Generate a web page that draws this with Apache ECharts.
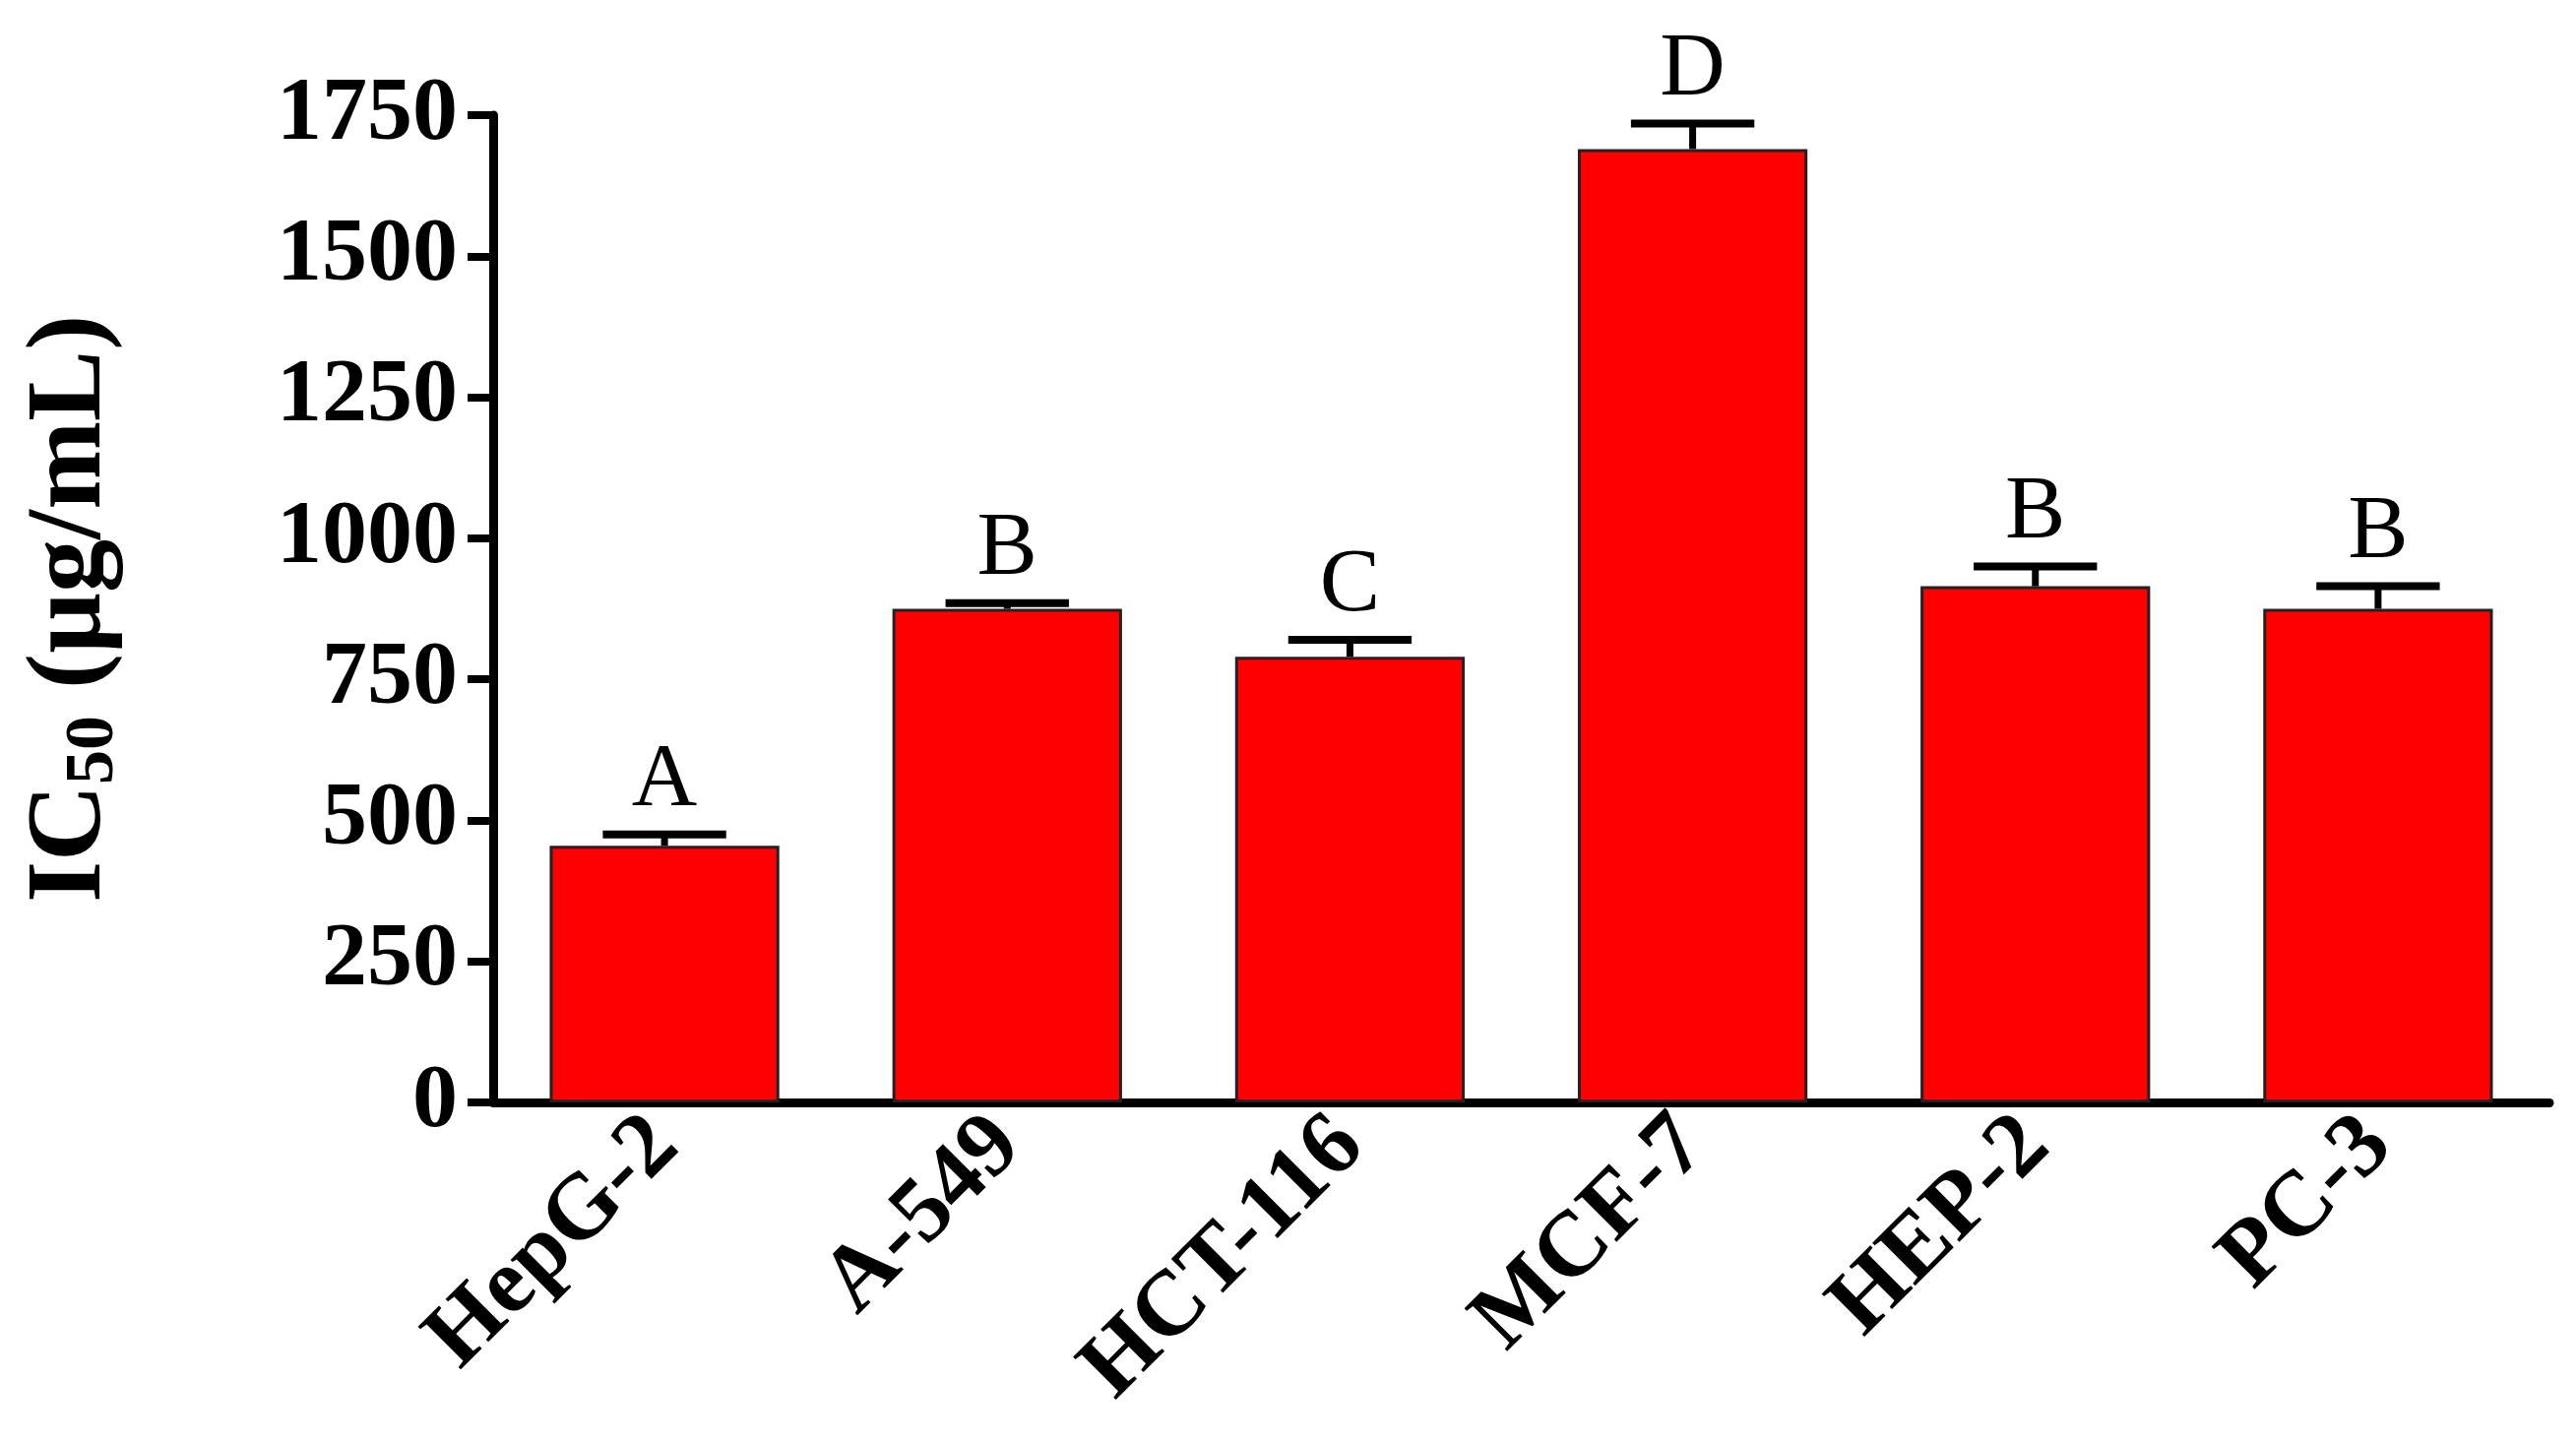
<!DOCTYPE html>
<html><head><meta charset="utf-8">
<script src="https://cdn.jsdelivr.net/npm/echarts@6/dist/echarts.min.js"></script>
<style>html,body{margin:0;padding:0;background:#fff}#c{width:2617px;height:1466px}</style>
</head><body><div id="c"></div>
<script>
const categories = ['HepG-2','A-549','HCT-116','MCF-7','HEP-2','PC-3'];
const values = [455, 875, 790, 1690, 915, 875];
const errors = [20, 10, 30, 45, 35, 40];
const letters = ['A','B','C','D','B','B'];
const yTicks = [0,250,500,750,1000,1250,1500,1750];

const chart = echarts.init(document.getElementById('c'));
const serif = '"Liberation Serif","DejaVu Serif",serif';
chart.setOption({
  animation:false,
  grid:{left:501,right:27,top:117,bottom:346,containLabel:false},
  xAxis:{type:'category',data:categories,
    axisLine:{lineStyle:{color:'#000',width:9}},
    axisTick:{show:false},
    axisLabel:{rotate:45,fontFamily:serif,fontWeight:'bold',fontSize:94,color:'#000',margin:30}},
  yAxis:{type:'value',min:0,max:1750,interval:250,
    splitLine:{show:false},
    axisLine:{show:true,lineStyle:{color:'#000',width:9}},
    axisTick:{show:true,length:26,lineStyle:{width:8,color:'#000'}},
    axisLabel:{fontFamily:serif,fontWeight:'bold',fontSize:92,color:'#000',margin:36,
      formatter:v=>yTicks.includes(v)?String(v):''},
    name:'{a|IC}{s|50}{a| (µg/mL)}',nameLocation:'middle',nameRotate:90,nameGap:370,
    nameTextStyle:{rich:{a:{fontFamily:serif,fontWeight:'bold',fontSize:108,color:'#000'},
      s:{fontFamily:serif,fontWeight:'bold',fontSize:70,color:'#000',verticalAlign:'bottom',padding:[45,0,0,0]}}}},
  series:[
    {type:'bar',data:values,barCategoryGap:'33%',
      itemStyle:{color:'#ff0000',borderColor:'#222',borderWidth:3}},
    {type:'custom',z:5,data:values.map((v,i)=>[i,v,errors[i],letters[i]]),
      renderItem:(params,api)=>{
        const i=api.value(0),v=api.value(1),e=api.value(2);
        const p0=api.coord([i,v]),p1=api.coord([i,v+e]);
        const hw=api.size([1,0])[0]*0.18;
        return {type:'group',children:[
          {type:'line',shape:{x1:p0[0],y1:p0[1],x2:p1[0],y2:p1[1]},style:{stroke:'#000',lineWidth:7}},
          {type:'line',shape:{x1:p1[0]-hw,y1:p1[1],x2:p1[0]+hw,y2:p1[1]},style:{stroke:'#000',lineWidth:8}},
          {type:'text',x:p1[0],y:p1[1]-8,style:{text:letters[i],fontFamily:serif,fontSize:92,fill:'#000',align:'center',verticalAlign:'bottom'}}
        ]};
      }}
  ]
});
</script></body></html>
